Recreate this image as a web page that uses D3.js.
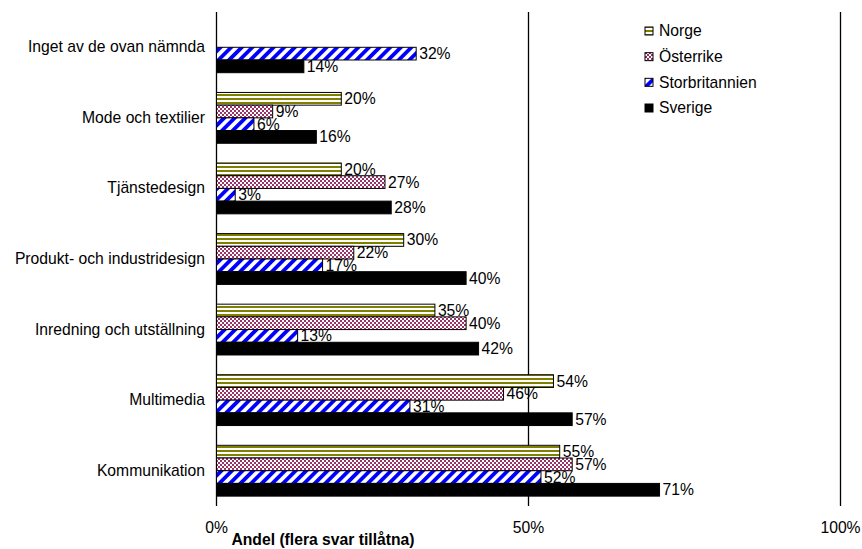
<!DOCTYPE html>
<html>
<head>
<meta charset="utf-8">
<script src="https://cdn.jsdelivr.net/npm/d3@7"></script>
<style>
  html, body { margin: 0; padding: 0; background: #fff; }
  svg text { font-family: "Liberation Sans", Arial, sans-serif; fill: #000; }
</style>
</head>
<body>
<svg id="chart" width="862" height="549"></svg>
<script>
// Categories, top to bottom
const categories = [
  "Inget av de ovan nämnda",
  "Mode och textilier",
  "Tjänstedesign",
  "Produkt- och industridesign",
  "Inredning och utställning",
  "Multimedia",
  "Kommunikation"
];

// Countries, in bar order within each group
const seriesNames = ["Norge", "Österrike", "Storbritannien", "Sverige"];

// Share of respondents (%) per category; null = no bar
const norge          = [null, 20, 20, 30, 35, 54, 55];
const osterrike      = [null,  9, 27, 22, 40, 46, 57];
const storbritannien = [  32,  6,  3, 17, 13, 31, 52];
const sverige        = [  14, 16, 28, 40, 42, 57, 71];

const xTicks = [0, 50, 100];
const xTickLabels = ["0%", "50%", "100%"];
const axisTitle = "Andel (flera svar tillåtna)";

const seriesValues = [norge, osterrike, storbritannien, sverige];
const fills = ["url(#pNorge)", "url(#pOst)", "url(#pStor)", "#000"];

const svg = d3.select("#chart");
const plotLeft = 216.5, plotRight = 840.5, plotTop = 12, plotBottom = 506;
const fs = 15.7;

// Fill patterns
const defs = svg.append("defs");
const pN = defs.append("pattern").attr("id", "pNorge")
  .attr("patternUnits", "userSpaceOnUse").attr("width", 4).attr("height", 4);
pN.append("rect").attr("width", 4).attr("height", 4).attr("fill", "#fff");
pN.append("rect").attr("y", 2).attr("width", 4).attr("height", 2).attr("fill", "#808000");

const pO = defs.append("pattern").attr("id", "pOst")
  .attr("patternUnits", "userSpaceOnUse").attr("width", 4).attr("height", 4);
pO.append("rect").attr("width", 4).attr("height", 4).attr("fill", "#fff");
pO.append("rect").attr("width", 2).attr("height", 2).attr("fill", "#993366");
pO.append("rect").attr("x", 2).attr("y", 2).attr("width", 2).attr("height", 2).attr("fill", "#993366");

const pS = defs.append("pattern").attr("id", "pStor")
  .attr("patternUnits", "userSpaceOnUse").attr("width", 7.5).attr("height", 7.5)
  .attr("patternTransform", "rotate(45)");
pS.append("rect").attr("width", 7.5).attr("height", 7.5).attr("fill", "#fff");
pS.append("rect").attr("width", 3.8).attr("height", 7.5).attr("fill", "#0000ff");

// Scales
const x = d3.scaleLinear().domain([0, 100]).range([plotLeft, plotRight]);
const y = d3.scaleBand().domain(categories).range([plotTop, plotBottom])
  .paddingInner(0.28).paddingOuter(0.14);
const ySub = d3.scaleBand().domain(seriesNames).range([0, y.bandwidth()]);

// Vertical gridlines / axis line
svg.append("g").selectAll("line").data(xTicks).join("line")
  .attr("x1", d => x(d)).attr("x2", d => x(d))
  .attr("y1", plotTop).attr("y2", plotBottom)
  .attr("stroke", "#000").attr("stroke-width", 1.3);

// Bars
const rows = [];
categories.forEach((c, i) => {
  seriesNames.forEach((s, j) => {
    const v = seriesValues[j][i];
    if (v !== null) rows.push({ c, s, v, j });
  });
});

const g = svg.append("g");
g.selectAll("rect").data(rows).join("rect")
  .attr("x", x(0))
  .attr("y", d => y(d.c) + ySub(d.s))
  .attr("width", d => x(d.v) - x(0))
  .attr("height", ySub.bandwidth())
  .attr("fill", d => fills[d.j])
  .attr("stroke", "#000").attr("stroke-width", 1);

// Value labels
g.selectAll("text").data(rows).join("text")
  .attr("x", d => x(d.v) + 3)
  .attr("y", d => y(d.c) + ySub(d.s) + ySub.bandwidth() / 2 + 5.5)
  .attr("font-size", fs)
  .text(d => d.v + "%");

// Category labels
svg.append("g").selectAll("text").data(categories).join("text")
  .attr("x", 205)
  .attr("y", d => y(d) + y.bandwidth() / 2 + 5)
  .attr("text-anchor", "end")
  .attr("font-size", fs)
  .text(d => d);

// X tick labels
svg.append("g").selectAll("text").data(xTicks).join("text")
  .attr("x", d => x(d))
  .attr("y", 532.5)
  .attr("text-anchor", "middle")
  .attr("font-size", fs)
  .text((d, i) => xTickLabels[i]);

// Axis title
svg.append("text")
  .attr("x", 323).attr("y", 545)
  .attr("text-anchor", "middle")
  .attr("font-size", fs).attr("font-weight", "bold")
  .text(axisTitle);

// Legend
const legend = svg.append("g").attr("transform", "translate(645,0)");
const ly = d3.scalePoint().domain(seriesNames).range([31, 108]);
legend.selectAll("rect").data(seriesNames).join("rect")
  .attr("x", 0).attr("y", d => ly(d) - 4)
  .attr("width", 8).attr("height", 8)
  .attr("fill", (d, i) => fills[i])
  .attr("stroke", "#000").attr("stroke-width", 1);
legend.selectAll("text").data(seriesNames).join("text")
  .attr("x", 14).attr("y", d => ly(d) + 5.4)
  .attr("font-size", fs)
  .text(d => d);
</script>
</body>
</html>
